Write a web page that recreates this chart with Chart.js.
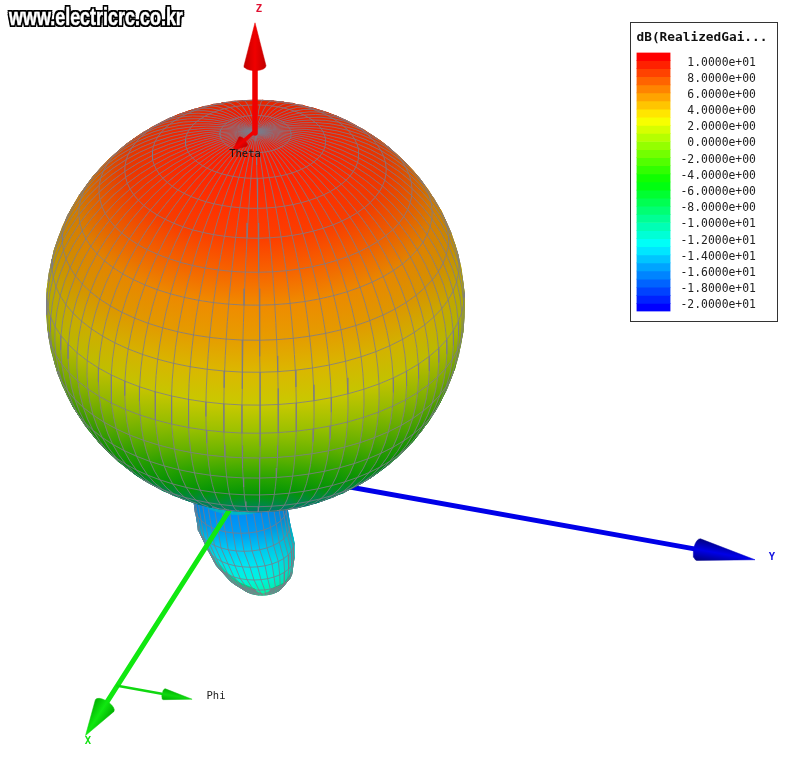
<!DOCTYPE html>
<html>
<head>
<meta charset="utf-8">
<title>dB(RealizedGain)</title>
<script src="https://cdn.jsdelivr.net/npm/chart.js@4"></script>
<style>
    html, body { margin: 0; padding: 0; background: #fff; }
    #page { position: relative; width: 800px; height: 767px; overflow: hidden; }
    #plot { position: absolute; left: 0; top: 0; }
    #legendBox { position: absolute; left: 630px; top: 22px; width: 146px; height: 298px; border: 1.5px solid #333; background: #fff; }
    #watermark {
        position: absolute; left: 9px; top: 4px; white-space: nowrap;
        font: bold 23px "Liberation Sans Narrow", "Liberation Sans", sans-serif;
        color: #fff; -webkit-text-stroke: 0.5px #fff;
        text-shadow: 2px 0 #000, -2px 0 #000, 0 2px #000, 0 -2px #000, 2px 2px #000, -2px 2px #000, 2px -2px #000, -2px -2px #000;
        transform-origin: left top; transform: scaleX(0.78);
    }
</style>
</head>
<body>
<div id="page">
    <canvas id="plot" width="800" height="767"></canvas>
    <div id="legendBox"><canvas id="legend" width="146" height="298"></canvas></div>
    <div id="watermark">www.electricrc.co.kr</div>
</div>
<script>
var ringThetaDeg = [0, 9.8, 19.6, 29.6, 38.7, 48.5, 57.7, 67.5, 76.7, 86.7, 96.1, 105.5, 114.6, 124.5, 135, 146, 158, 169, 180];
var ringRadius = [206, 206, 206, 206, 206, 206, 206, 206, 206, 206, 206, 206, 206, 206, 206, 206, 206, 206, 206];
var ringGainDb = [10, 9.7, 9.4, 9, 8.6, 7.4, 6, 5.2, 4, 2.75, 1.15, -0.7, -3, -5, -9.3, -12, -14, -15, -16];

// back lobe rings, top (behind the main lobe) to tip
var backRingX = [238, 241, 244, 250, 254, 259, 262, 263];
var backRingY = [490, 508, 526, 543, 558, 572, 583, 589];
var backRingR = [46, 46, 46, 44, 40, 33, 22, 8];
var backGainDb = [-16, -15.5, -14, -13, -12, -10.8, -10, -9.5];

// colour key
var legendBandTop = [11, 10, 9, 8, 7, 6, 5, 4, 3, 2, 1, 0, -1, -2, -3, -4, -5, -6, -7, -8, -9, -10, -11, -12, -13, -14, -15, -16, -17, -18, -19, -20];
var legendColors = ['#ff0000', '#ff2100', '#ff4200', '#ff6300', '#ff8400', '#ffa400', '#ffc500', '#ffe600',
    '#f7ff00', '#d6ff00', '#b5ff00', '#94ff00', '#73ff00', '#52ff00', '#31ff00', '#10ff00',
    '#00ff10', '#00ff31', '#00ff52', '#00ff73', '#00ff94', '#00ffb5', '#00ffd6', '#00fff7',
    '#00e6ff', '#00c5ff', '#00a4ff', '#0084ff', '#0063ff', '#0042ff', '#0021ff', '#0000ff'];
var legendTickValues = [10, 8, 6, 4, 2, 0, -2, -4, -6, -8, -10, -12, -14, -16, -18, -20];
var legendTickLabels = ['1.0000e+01', '8.0000e+00', '6.0000e+00', '4.0000e+00', '2.0000e+00', '0.0000e+00',
    '-2.0000e+00', '-4.0000e+00', '-6.0000e+00', '-8.0000e+00', '-1.0000e+01', '-1.2000e+01',
    '-1.4000e+01', '-1.6000e+01', '-1.8000e+01', '-2.0000e+01'];

// axis labels
var labelText = ['Z', 'Y', 'X', 'Phi', 'Theta'];
var labelX = [259, 772, 88, 216, 245];
var labelY = [9, 557, 741, 696, 154];
var labelColor = ['#e01030', '#1010e0', '#10e010', '#222222', '#111111'];
var labelWeight = ['bold', 'bold', 'bold', 'normal', 'normal'];

// camera, worked out from the three axes
var viewRight = [-0.321, 0.947, 0];
var viewDown = [0.503, 0.170, -0.847];
var viewToward = [0.802, 0.272, 0.530];
var origin = [255, 470];
var lobeCenter = [255.5, 306];
var lobeStretchX = 1.015;
var gridColor = 'rgba(124,122,136,0.8)';

function dot(a, b) { return a[0] * b[0] + a[1] * b[1] + a[2] * b[2]; }

function hexRgb(h) {
    return [parseInt(h.substr(1, 2), 16), parseInt(h.substr(3, 2), 16), parseInt(h.substr(5, 2), 16)];
}

function gainColor(g, shade) {
    var k = Math.max(0, Math.min(legendColors.length - 1, 10.5 - g));
    var i = Math.min(legendColors.length - 2, Math.floor(k));
    var c0 = hexRgb(legendColors[i]), c1 = hexRgb(legendColors[i + 1]);
    var t = k - i;
    return 'rgb(' + [0, 1, 2].map(function (n) {
        return Math.round((c0[n] + (c1[n] - c0[n]) * t) * shade);
    }).join(',') + ')';
}

function surfacePoint(thetaValue, r, phi) {
    var th = thetaValue * Math.PI / 180, ph = phi * Math.PI / 180;
    var n = [Math.sin(th) * Math.cos(ph), Math.sin(th) * Math.sin(ph), Math.cos(th)];
    return {
        x: lobeCenter[0] + r * lobeStretchX * dot(n, viewRight),
        y: lobeCenter[1] + r * dot(n, viewDown),
        depth: dot(n, viewToward),
        up: -dot(n, viewDown)
    };
}

function ringPoint(i, phi) { return surfacePoint(ringThetaDeg[i], ringRadius[i], phi); }

// halfway along a meridian between ring i and ring i+1, so the limb stays round
function betweenRings(i, phi) {
    return surfacePoint((ringThetaDeg[i] + ringThetaDeg[i + 1]) / 2, (ringRadius[i] + ringRadius[i + 1]) / 2, phi);
}

function lightAt(p) {
    return Math.max(0.45, Math.min(1, 0.66 + 0.28 * p.depth + 0.2 * p.up));
}

// the scales have no pixels yet the first time options get resolved
function gradientFill(from, to, stops) {
    var made = null;
    return function (context) {
        if (made) return made;
        var sx = context.chart.scales.x, sy = context.chart.scales.y;
        if (!sx || !sy) return stops[0];
        var x0 = sx.getPixelForValue(from.x), y0 = sy.getPixelForValue(from.y);
        var x1 = sx.getPixelForValue(to.x), y1 = sy.getPixelForValue(to.y);
        if (!isFinite(x0) || !isFinite(y0) || !isFinite(x1) || !isFinite(y1)) return stops[0];
        made = context.chart.ctx.createLinearGradient(x0, y0, x1, y1);
        stops.forEach(function (c, i) { made.addColorStop(i / (stops.length - 1), c); });
        return made;
    };
}

function patch(points, fillStyle, edgeWidth) {
    return {
        data: points, showLine: true, fill: 'shape', backgroundColor: fillStyle, borderColor: fillStyle,
        borderWidth: edgeWidth, pointRadius: 0, tension: 0, clip: false
    };
}

function line(points, color, width) {
    return {
        data: points, showLine: true, fill: false, borderColor: color, borderWidth: width,
        pointRadius: 0, tension: 0, clip: false, spanGaps: false, borderCapStyle: 'round'
    };
}

function mid(a, b) {
    return { x: (a.x + b.x) / 2, y: (a.y + b.y) / 2, depth: (a.depth + b.depth) / 2, up: (a.up + b.up) / 2 };
}

function sphereQuads() {
    var quads = [];
    for (var i = 0; i < ringThetaDeg.length - 1; i++) {
        for (var phi = 0; phi < 360; phi += 5) {
            var a = ringPoint(i, phi), b = ringPoint(i, phi + 5), c = ringPoint(i + 1, phi + 5), d = ringPoint(i + 1, phi);
            var depth = (a.depth + b.depth + c.depth + d.depth) / 4;
            if (Math.max(a.depth, b.depth, c.depth, d.depth) < -0.08) continue;
            var top = mid(a, b), bot = mid(c, d);
            var fillStyle = gradientFill(top, bot, [gainColor(ringGainDb[i], lightAt(top)), gainColor(ringGainDb[i + 1], lightAt(bot))]);
            quads.push({ depth: depth, set: patch([a, b, betweenRings(i, phi + 5), c, d, betweenRings(i, phi), a], fillStyle, 0.8) });
        }
    }
    quads.sort(function (p, q) { return p.depth - q.depth; });
    return quads.map(function (q) { return q.set; });
}

// keeps the part of a run of points that faces the viewer, cut at the limb
function visibleRun(points) {
    var out = [];
    for (var i = 0; i < points.length; i++) {
        var p = points[i], prev = points[i - 1];
        if (prev && (prev.depth >= 0) !== (p.depth >= 0)) {
            var t = prev.depth / (prev.depth - p.depth);
            out.push({ x: prev.x + (p.x - prev.x) * t, y: prev.y + (p.y - prev.y) * t });
        }
        out.push(p.depth >= 0 ? { x: p.x, y: p.y } : { x: NaN, y: NaN });
    }
    return out;
}

function sphereGrid() {
    var sets = [], pts, i, phi;
    for (phi = 0; phi < 360; phi += 5) {
        pts = [];
        for (i = 0; i < ringThetaDeg.length; i++) {
            pts.push(ringPoint(i, phi));
            if (i < ringThetaDeg.length - 1) pts.push(betweenRings(i, phi));
        }
        sets.push(line(visibleRun(pts), gridColor, 1));
    }
    for (i = 1; i < ringThetaDeg.length - 1; i++) {
        pts = [];
        for (phi = 0; phi <= 360; phi += 5) pts.push(ringPoint(i, phi));
        sets.push(line(visibleRun(pts), gridColor, 1));
    }
    return sets;
}

function backPoint(i, alpha) {
    var a = alpha * Math.PI / 180;
    return { x: backRingX[i] + backRingR[i] * Math.cos(a), y: backRingY[i] + 0.55 * backRingR[i] * Math.sin(a), s: Math.sin(a) };
}

function backLobe() {
    var sets = [], i, alpha, pts;
    function band(from, to) {
        for (var n = 0; n < backRingX.length - 1; n++) {
            for (var al = from; al < to; al += 10) {
                var a = backPoint(n, al), b = backPoint(n, al + 10), c = backPoint(n + 1, al + 10), d = backPoint(n + 1, al);
                var top = mid(a, b), bot = mid(c, d);
                var light = 0.78 + 0.18 * Math.max(0, a.s);
                sets.push(patch([a, b, c, d, a], gradientFill(top, bot, [gainColor(backGainDb[n], light), gainColor(backGainDb[n + 1], light)]), 0.8));
            }
        }
    }
    band(180, 360);
    band(0, 180);
    for (alpha = 10; alpha < 180; alpha += 10) {
        pts = [];
        for (i = 0; i < backRingX.length; i++) pts.push(backPoint(i, alpha));
        sets.push(line(pts, gridColor, 1));
    }
    for (i = 1; i < backRingX.length - 1; i++) {
        pts = [];
        for (alpha = 0; alpha <= 180; alpha += 10) pts.push(backPoint(i, alpha));
        sets.push(line(pts, gridColor, 1));
    }
    return sets;
}

function project(p) {
    return { x: origin[0] + dot(p, viewRight), y: origin[1] + dot(p, viewDown) };
}

// shaft plus cone, from start to end in model units
function arrow(start, end, conePart, shaftWidth, halfWidth, color, dark) {
    var s = project(start), e = project(end);
    var b = { x: s.x + (e.x - s.x) * (1 - conePart), y: s.y + (e.y - s.y) * (1 - conePart) };
    var len = Math.hypot(e.x - b.x, e.y - b.y);
    var ux = (e.x - b.x) / len, uy = (e.y - b.y) / len;
    var cone = [e];
    for (var deg = 0; deg <= 180; deg += 20) {
        var c = Math.cos(deg * Math.PI / 180), sn = Math.sin(deg * Math.PI / 180);
        cone.push({ x: b.x - uy * halfWidth * c - ux * halfWidth * 0.45 * sn, y: b.y + ux * halfWidth * c - uy * halfWidth * 0.45 * sn });
    }
    cone.push(e);
    var from = { x: b.x - uy * halfWidth, y: b.y + ux * halfWidth }, to = { x: b.x + uy * halfWidth, y: b.y - ux * halfWidth };
    return [line([s, b], color, shaftWidth), patch(cone, gradientFill(from, to, [dark, color, dark]), 0.5)];
}

var axisLen = 528, coneEnd = 0.113;

// painter order, last on top
var painted = []
    .concat(arrow([0, 0, 0], [0, axisLen, 0], coneEnd, 5, 11, '#0000e8', '#000080'))
    .concat(backLobe())
    .concat(arrow([0, 0, 0], [axisLen, 0, 0], coneEnd, 5, 11, '#10e810', '#00b000'))
    .concat(arrow([429, 0, 0], [429, 79, 0], 0.37, 2.5, 5.5, '#10d810', '#00b000'))
    .concat(sphereQuads())
    .concat(sphereGrid())
    .concat(arrow([0, 0, 398], [0, 0, axisLen], 0.39, 5.5, 11, '#f00000', '#c00000'))
    .concat(arrow([0, 0, 400], [41, -9.4, 400], 0.45, 3.5, 6, '#f00000', '#c00000'));

var axisLabels = {
    id: 'axisLabels',
    afterDatasetsDraw: function (chart) {
        var ctx = chart.ctx;
        ctx.save();
        ctx.textAlign = 'center';
        ctx.textBaseline = 'middle';
        labelText.forEach(function (t, i) {
            ctx.font = labelWeight[i] + ' 10.5px "DejaVu Sans Mono", monospace';
            ctx.fillStyle = labelColor[i];
            ctx.fillText(t, chart.scales.x.getPixelForValue(labelX[i]), chart.scales.y.getPixelForValue(labelY[i]));
        });
        ctx.restore();
    }
};

new Chart(document.getElementById('plot'), {
    type: 'scatter',
    data: { datasets: painted.reverse() },
    plugins: [axisLabels],
    options: {
        responsive: false,
        animation: false,
        events: [],
        layout: { padding: { left: 0, right: 0, top: 0, bottom: 0 } },
        plugins: { legend: { display: false }, tooltip: { enabled: false } },
        scales: {
            x: { type: 'linear', display: false, min: 0, max: 800 },
            y: { type: 'linear', display: false, min: 0, max: 767, reverse: true }
        }
    }
});

new Chart(document.getElementById('legend'), {
    type: 'bar',
    data: {
        labels: [''],
        datasets: legendBandTop.map(function (top, i) {
            return { data: [[top - 1, top]], backgroundColor: legendColors[i], borderWidth: 0, grouped: false, barPercentage: 1, categoryPercentage: 1 };
        })
    },
    options: {
        responsive: false,
        animation: false,
        events: [],
        layout: { padding: { left: 5.5, right: 5, bottom: 9.5, top: 0 } },
        plugins: {
            legend: { display: false },
            tooltip: { enabled: false },
            title: {
                display: true,
                text: 'dB(RealizedGai...',
                align: 'start',
                color: '#111',
                padding: { top: 7, bottom: 8 },
                font: { family: '"DejaVu Sans Mono", monospace', size: 12.8, weight: 'bold', lineHeight: 1.13 }
            }
        },
        scales: {
            x: { display: false },
            y: {
                position: 'right',
                min: -21,
                max: 11,
                border: { display: false },
                grid: { display: false, drawTicks: false },
                afterFit: function (scale) {
                    scale.width = 101.5;
                    scale.paddingTop = 0;
                    scale.paddingBottom = 0;
                },
                afterBuildTicks: function (scale) {
                    scale.ticks = legendTickValues.map(function (v) { return { value: v }; });
                },
                ticks: {
                    autoSkip: false,
                    crossAlign: 'near',
                    color: '#222',
                    padding: 10,
                    labelOffset: 2,
                    font: { family: '"DejaVu Sans Mono", monospace', size: 11.4 },
                    callback: function (v, i) { return legendTickLabels[i].padStart(11, ' '); }
                }
            }
        }
    }
});
</script>
</body>
</html>
